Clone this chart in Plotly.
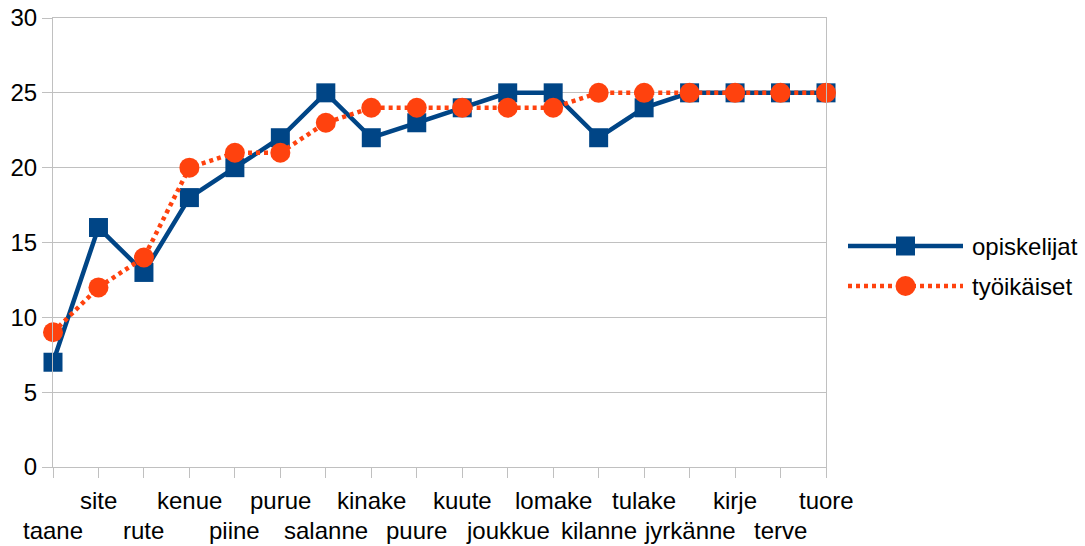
import plotly.graph_objects as go

categories = ["taane", "site", "rute", "kenue", "piine", "purue", "salanne", "kinake",
              "puure", "kuute", "joukkue", "lomake", "kilanne", "tulake", "jyrkänne",
              "kirje", "terve", "tuore"]
opiskelijat = [7, 16, 13, 18, 20, 22, 25, 22, 23, 24, 25, 25, 22, 24, 25, 25, 25, 25]
tyoikaiset = [9, 12, 14, 20, 21, 21, 23, 24, 24, 24, 24, 24, 25, 25, 25, 25, 25, 25]
series_names = ["opiskelijat", "työikäiset"]
y_ticks = [0, 5, 10, 15, 20, 25, 30]

BLUE = "#004586"
ORANGE = "#ff420e"
GRID = "#c0c0c0"
FONT = "Liberation Sans, Arial, sans-serif"
FS = 24

# page geometry (body margin removed via post_script)
W, H = 1085, 546
page_left, page_top, page_bottom, page_right_plot = 53, 18, 467, 826
page_right_area = 1080

ml = page_left
mt = page_top
mb = H - page_bottom
mr = W - page_right_area
pw = W - ml - mr
xdom_end = (page_right_plot - page_left) / pw
leg_left = 836
x2dom_start = (leg_left - page_left) / pw

xs = list(range(len(categories)))

fig = go.Figure()
fig.add_trace(go.Scatter(x=xs, y=opiskelijat, mode="lines+markers", name=series_names[0],
                         line=dict(color=BLUE, width=4.5),
                         marker=dict(symbol="square", size=19, color=BLUE, line=dict(width=0)),
                         showlegend=False, cliponaxis=False))
fig.add_trace(go.Scatter(x=xs, y=tyoikaiset, mode="lines+markers", name=series_names[1],
                         line=dict(color=ORANGE, width=4.5, dash="4px,4px"),
                         marker=dict(symbol="circle", size=20, color=ORANGE, line=dict(width=0)),
                         showlegend=False, cliponaxis=False))

# custom legend on a secondary axis pair (page pixel coordinates)
lx0, lx1, ltext = 848, 963, 970
ly = [246, 286]
styles = [(BLUE, "solid", "square", 19), (ORANGE, "4px,4px", "circle", 20)]
for i, name in enumerate(series_names):
    c, d, s, sz = styles[i]
    fig.add_trace(go.Scatter(x=[lx0, lx1], y=[ly[i], ly[i]], mode="lines", xaxis="x2", yaxis="y2",
                             line=dict(color=c, width=4.5, dash=d), showlegend=False,
                             hoverinfo="skip", cliponaxis=False))
    fig.add_trace(go.Scatter(x=[(lx0 + lx1) / 2], y=[ly[i]], mode="markers", xaxis="x2", yaxis="y2",
                             marker=dict(symbol=s, size=sz, color=c, line=dict(width=0)),
                             showlegend=False, hoverinfo="skip", cliponaxis=False))
    fig.add_annotation(x=ltext, y=ly[i], xref="x2", yref="y2", text=name, showarrow=False,
                       xanchor="left", yanchor="middle", font=dict(size=FS, color="black", family=FONT))

# two-row category labels
for i, cat in enumerate(categories):
    fig.add_annotation(x=i, y=0, xref="x", yref="paper", text=cat, showarrow=False,
                       xanchor="center", yanchor="middle",
                       yshift=-33 if i % 2 == 1 else -63,
                       font=dict(size=FS, color="black", family=FONT))

fig.update_layout(
    width=W, height=H,
    margin=dict(l=ml, r=mr, t=mt, b=mb, autoexpand=False),
    paper_bgcolor="white", plot_bgcolor="rgba(0,0,0,0)",
    font=dict(family=FONT, size=FS, color="black"),
    showlegend=False,
    xaxis=dict(domain=[0, xdom_end], range=[0, len(categories) - 1], tickmode="array",
               tickvals=xs, showticklabels=False, ticks="outside", ticklen=10,
               tickcolor=GRID, tickwidth=1, showgrid=False, zeroline=False, automargin=False,
               showline=True, mirror=True, linecolor=GRID, linewidth=1),
    yaxis=dict(range=[0, 30], tickmode="array", tickvals=y_ticks, ticks="outside", ticklen=10,
               tickcolor=GRID, tickwidth=1, showgrid=True, gridcolor=GRID, gridwidth=1,
               zeroline=False, showline=True, mirror=True, linecolor=GRID, linewidth=1,
               automargin=False, ticklabeloverflow="allow",
               tickfont=dict(size=FS, color="black", family=FONT)),
    xaxis2=dict(domain=[x2dom_start, 1], range=[leg_left, page_right_area], visible=False, anchor="y2"),
    yaxis2=dict(domain=[0, 1], range=[page_bottom, page_top], visible=False, anchor="x2"),
)

fig.write_html("out.html", config={"displayModeBar": False},
               post_script="document.body.style.margin='0';")
